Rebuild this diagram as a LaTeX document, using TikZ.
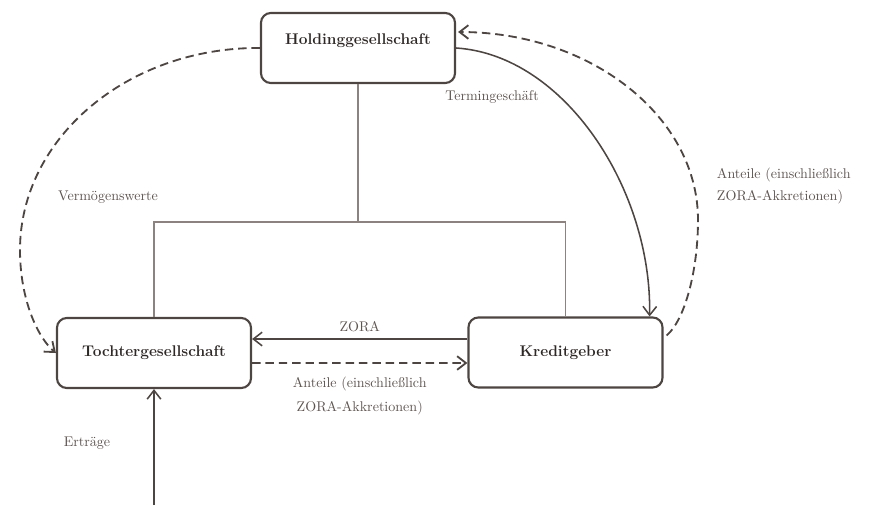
\documentclass[tikz,border=0pt]{standalone}
\usepackage{xcolor}
\definecolor{cLine}{HTML}{4D4542}
\definecolor{cTree}{HTML}{8C8280}
\definecolor{cText}{HTML}{2E2826}
\definecolor{cLabel}{HTML}{5E5450}
\usepackage{tikz}
\usetikzlibrary{positioning,arrows.meta,calc}
\tikzset{
  node-box/.style={draw=cLine,line width=1.5pt,rounded corners=7pt,
    minimum height=1.75cm,minimum width=4.85cm,align=center,
    font=\fontsize{11}{13}\selectfont\bfseries,text=cText},
  edge-label/.style={text=cLabel,align=center,font=\fontsize{10}{17}\selectfont},
  arrow/.style={-{Straight Barb[length=2.2mm,width=3.4mm]},line width=1.1pt,draw=cLine},
  arrow-dash/.style={-{Straight Barb[length=2.2mm,width=3.4mm]},line width=1.3pt,
    draw=cLine,dash pattern=on 6pt off 3.5pt},
  tree-line/.style={line width=0.9pt,draw=cTree},
}

\begin{document}
\begin{tikzpicture}[x=0.025cm,y=-0.025cm]
  \useasboundingbox (0,0) rectangle (869,509);
  % Knoten
  \node[node-box,text depth=0.45cm] (hold) at (358,48) {Holdinggesellschaft};
  \node[node-box] (toch) at (154,353) {Tochtergesellschaft};
  \node[node-box] (kred) at (565.5,352.5) {Kreditgeber};
  \coordinate (mid) at (358,222);
  \coordinate (ertr) at (154,505);
  % Konzernstruktur
  \draw[tree-line] (hold.south) -- (mid);
  \draw[tree-line] (toch.north) |- (mid) -| (kred.north);
  % Verbindungen
  \draw[arrow] ($(kred.west)+(0,-13.5)$) -- ($(toch.east)+(0,-14)$)
    node[edge-label,midway,above=1pt] (zora) {ZORA};
  \draw[arrow-dash] ($(toch.east)+(0,10)$) -- ($(kred.west)+(0,10.5)$)
    node[edge-label,midway,below=6pt] (ant1) {Anteile (einschließlich\\ZORA-Akkretionen)};
  \draw[arrow] (ertr) -- (toch.south);
  \node[edge-label] (ertlab) at (87,443) {Erträge};
  \draw[arrow-dash] (hold.west) .. controls (128,47) and (20,138) .. (20,250)
    .. controls (20,300) and (38,338) .. (toch.west);
  \node[edge-label] (verm) at (108,197) {Vermögenswerte};
  \draw[arrow] (hold.east) .. controls (565,55) and (652,190) .. ($(kred.north east)+(-14,0)$);
  \node[edge-label] (term) at (492,97) {Termingeschäft};
  \draw[arrow-dash] ($(kred.east)+(3,-17)$) .. controls (685,320) and (698,270) .. (698,220)
    .. controls (698,116) and (590,32) .. ($(hold.east)+(2,-16)$);
  \node[edge-label,align=left,anchor=west,font=\fontsize{10}{15.5}\selectfont] (ant2)
    at (712,186) {Anteile (einschließlich\\ZORA-Akkretionen)};
\end{tikzpicture}
\end{document}
